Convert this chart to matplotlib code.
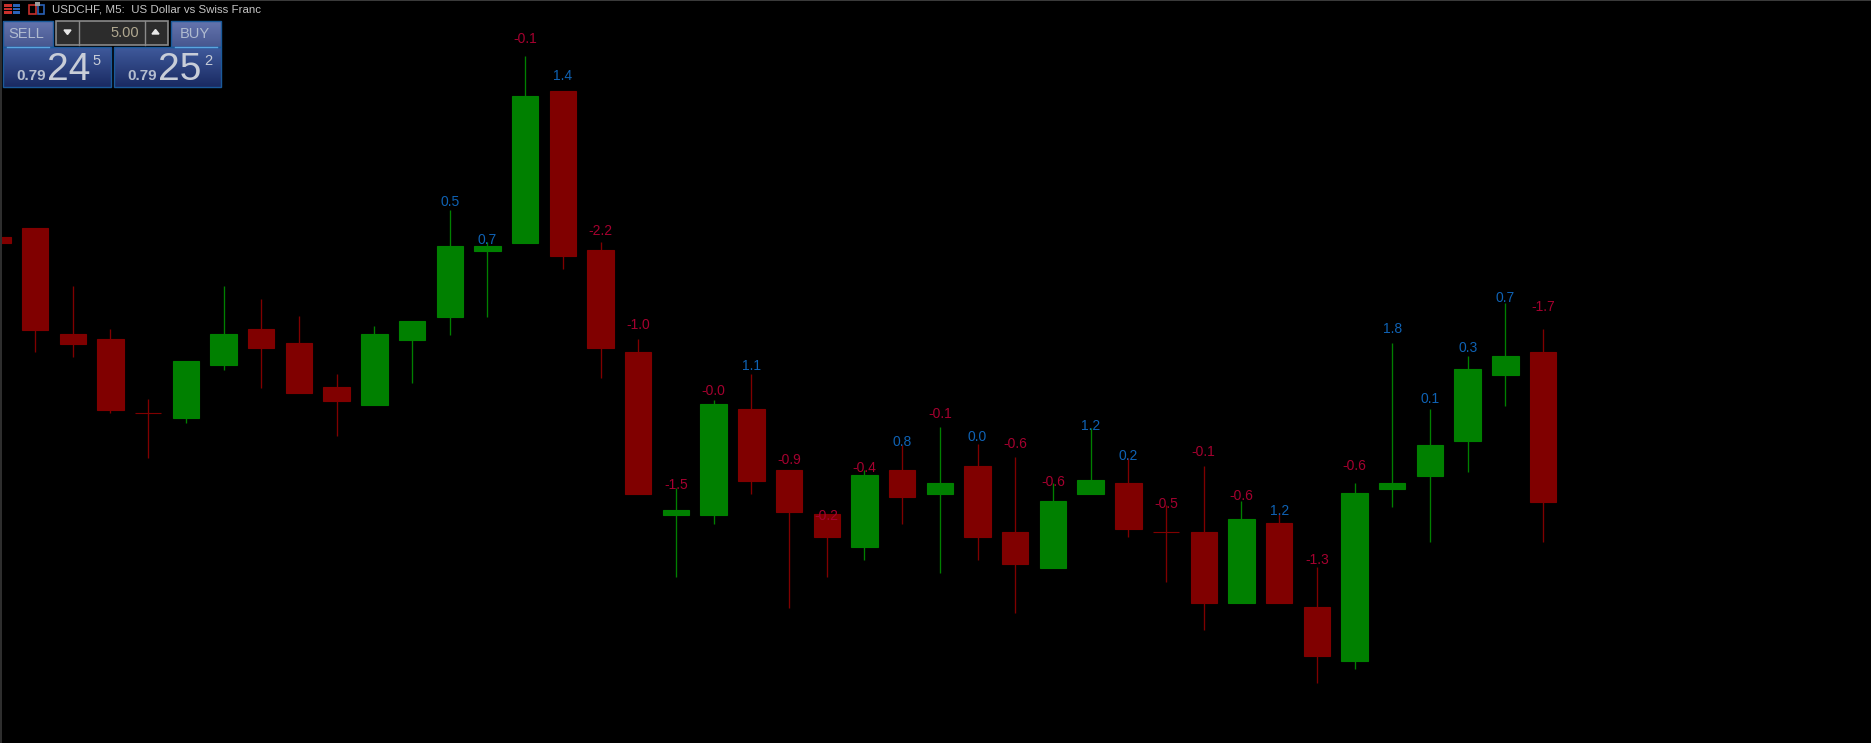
"""USDCHF M5 candlestick screen with the trade panel."""

import matplotlib
matplotlib.use("Agg")
import matplotlib.pyplot as plt
import matplotlib.colors as mcolors
import numpy as np
from matplotlib.patches import Polygon, Rectangle

# ── Data (levels, counted downward as in the terminal) ──
upper = [237.3, 228, 334, 338.7, 413.3, 361, 334, 329.3, 343.3, 387, 334, 321, 245.7, 245.7,
         96.3, 91.3, 250.3, 351.7, 510.3, 404.3, 409.3, 470.3, 514, 475, 470.3, 483.3, 465.7,
         531.7, 501, 479.7, 483.3, 532.3, 531.7, 518.7, 523.3, 607, 492.7, 483.3, 444.7, 369.3,
         356.3, 351.7]
lower = [243, 330, 344, 410, 413.3, 418.3, 365.3, 347.7, 392.7, 400.7, 405.3, 339.7, 317.3, 251.3,
         243, 256, 347.7, 493.7, 515, 515, 481, 511.7, 537.3, 546.7, 497, 493.7, 537.3,
         564.3, 568, 493.7, 529, 532.3, 603, 603, 603, 656, 660.7, 489, 476, 441,
         375, 501.7]
high = [237.3, 228, 286, 329.3, 399.3, 361, 285.7, 298.7, 316, 374.3, 325.7, 321, 210.3, 242.3,
        56, 91.3, 242.3, 339, 488.3, 399.7, 374, 470.3, 514, 470, 445, 427, 444.3,
        457.3, 483.3, 428.3, 458.3, 505, 466, 501, 513.3, 566.7, 483.3, 343.3, 409, 356,
        302.7, 329.3]
low = [243, 352.3, 357.3, 413.3, 458.3, 423.3, 370.3, 387.7, 392.7, 435.7, 405.3, 383, 335, 317.3,
       243, 269, 378.3, 493.7, 577.3, 524.3, 493.7, 607.7, 577.3, 559.7, 524.3, 572.7, 559.7,
       612.7, 568, 493.7, 537.3, 582.3, 630, 603, 603, 683.3, 669, 506.7, 542, 471.7,
       405.7, 541.7]
rising = [0, 0, 0, 0, 0, 1, 1, 0, 0, 0, 1, 1, 1, 1,
          1, 0, 0, 0, 1, 1, 0, 0, 0, 1, 0, 1, 0,
          0, 1, 1, 0, 0, 0, 1, 0, 0, 1, 1, 1, 1,
          1, 0]

# indicator values above the candles, starting at candle 12
labels = ["0.5", "0.7", "-0.1", "1.4", "-2.2", "-1.0", "-1.5", "-0.0", "1.1", "-0.9", "-0.2",
          "-0.4", "0.8", "-0.1", "0.0", "-0.6", "-0.6", "1.2", "0.2", "-0.5", "-0.1", "-0.6",
          "1.2", "-1.3", "-0.6", "1.8", "0.1", "0.3", "0.7", "-1.7"]
label_levels = [201, 238.7, 37.3, 74, 229.3, 323.7, 483.7, 389.3, 364.7, 459, 514,
                466, 440, 413, 435.3, 442.7, 480.3, 424.7, 454.3, 502.3, 450.7, 494.3,
                509.3, 559, 464.7, 327.3, 397.7, 347, 296, 305.7]
first_label = 12

RED = "#800000"
GREEN = "#008000"
LABEL_RED = "#A5002F"
LABEL_BLUE = "#0F62B4"
FONT = "Liberation Sans"

# ── Figure ────────────────────────────────────────────────────────────
fig = plt.figure(figsize=(18.71, 7.43), dpi=100, facecolor="black")
ax = fig.add_axes([0, 0, 1, 1], facecolor="black")
ax.set_xlim(0.069, 49.7)
ax.set_ylim(743, 0)
ax.axis("off")

x = np.arange(len(upper))
colors = [GREEN if r else RED for r in rising]
upper_a = np.array(upper)
lower_a = np.array(lower)

ax.vlines(x, high, low, colors=colors, linewidth=0.95, zorder=2)
ax.bar(x, lower_a - upper_a, bottom=upper_a, width=0.7, color=colors,
       edgecolor=colors, linewidth=0.8, zorder=3)

for i, (txt, lev) in enumerate(zip(labels, label_levels)):
    col = LABEL_RED if txt.startswith("-") else LABEL_BLUE
    ax.text(first_label + i, lev + 1.5, txt, color=col, fontsize=10, family=FONT,
            ha="center", va="center", zorder=5)

# ── Screen overlay, in screen pixels ─────────────────────────────────
ov = fig.add_axes([0, 0, 1, 1], facecolor="none")
ov.set_xlim(0, 1871)
ov.set_ylim(743, 0)
ov.axis("off")


def gradient_box(x0, x1, y0, y1, top, bottom, edge):
    cmap = mcolors.LinearSegmentedColormap.from_list("g", [top, bottom])
    ov.imshow(np.linspace(0, 1, 64).reshape(-1, 1), cmap=cmap, aspect="auto",
              extent=(x0, x1, y1, y0), zorder=6)
    ov.add_patch(Rectangle((x0, y0), x1 - x0, y1 - y0, fill=False, edgecolor=edge,
                           linewidth=1.0, zorder=7))


ov.add_patch(Rectangle((0, 0), 2, 743, color="#2E2E2E", linewidth=0, zorder=6))
ov.add_patch(Rectangle((0, 0), 1871, 1, color="#3A3A3A", linewidth=0, zorder=6))

# title bar icons and text
for y0 in (4, 7.5, 11):
    ov.add_patch(Rectangle((4, y0), 8, 2.6, color="#C8302C", linewidth=0, zorder=7))
    ov.add_patch(Rectangle((13, y0), 7, 2.6, color="#2A62B8", linewidth=0, zorder=7))
ov.add_patch(Rectangle((29, 5), 7, 9, fill=False, edgecolor="#C8302C", linewidth=1.2, zorder=7))
ov.add_patch(Rectangle((38, 5), 6.5, 9, fill=False, edgecolor="#2A62B8", linewidth=1.2, zorder=7))
ov.add_patch(Rectangle((35, 2), 5, 4, color="#9A9A9A", linewidth=0, zorder=8))
ov.text(52, 9, "USDCHF, M5:  US Dollar vs Swiss Franc", color="#C4C4C4", fontsize=8.25,
        family=FONT, ha="left", va="center", zorder=8)

# sell and buy buttons
gradient_box(3, 53, 21, 47, "#6474AE", "#47578F", "#1A5A9A")
gradient_box(171, 221, 21, 47, "#6474AE", "#47578F", "#1A5A9A")
ov.text(26.5, 34, "SELL", color="#B0BBD0", fontsize=10.5, family=FONT, ha="center", va="center",
        zorder=8)
ov.text(195, 34, "BUY", color="#B0BBD0", fontsize=10.5, family=FONT, ha="center", va="center",
        zorder=8)
ov.plot([7, 49], [46.5, 46.5], color="#5AA6E0", linewidth=1, zorder=8)
ov.plot([175, 217], [46.5, 46.5], color="#5AA6E0", linewidth=1, zorder=8)

# lot size box
ov.add_patch(Rectangle((56, 21), 112, 24, facecolor="#2C2C2C", edgecolor="#8A8A8A",
                       linewidth=1.2, zorder=7))
ov.plot([79, 79], [21, 45], color="#8A8A8A", linewidth=1, zorder=8)
ov.plot([145, 145], [21, 45], color="#8A8A8A", linewidth=1, zorder=8)
ov.text(139, 33, "5.00", color="#B0A890", fontsize=10.5, family=FONT, ha="right", va="center",
        zorder=8)
ov.add_patch(Polygon([(64, 30), (71, 30), (67.5, 34.5)], color="#E8E8E8", zorder=8))
ov.add_patch(Polygon([(152, 34), (159, 34), (155.5, 29.5)], color="#E8E8E8", zorder=8))

# price panels
gradient_box(3, 111, 47, 87, "#3F5A9C", "#1A2A62", "#1A5A9A")
gradient_box(114, 221, 47, 87, "#3F5A9C", "#1A2A62", "#1A5A9A")
for x_small, x_big, x_pip, big, pip in ((31, 69, 97, "24", "5"), (142, 180, 208, "25", "2")):
    ov.text(x_small, 76.5, "0.79", color="#B4BDCF", fontsize=11, fontweight="bold", family=FONT,
            ha="center", va="center", zorder=8)
    ov.text(x_big, 70.5, big, color="#C8CDD8", fontsize=28, family=FONT,
            ha="center", va="center", zorder=8)
    ov.text(x_pip, 61, pip, color="#C8CDD8", fontsize=10.5, family=FONT,
            ha="center", va="center", zorder=8)

fig.savefig("out.png", dpi=100, facecolor="black")
